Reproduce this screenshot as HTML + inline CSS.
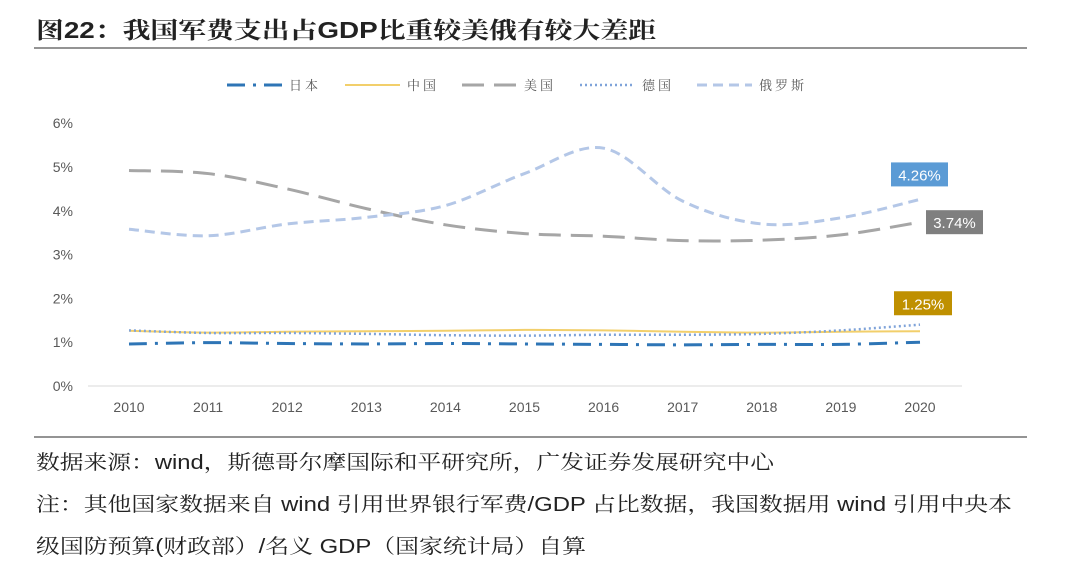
<!DOCTYPE html>
<html><head><meta charset="utf-8"><style>
body{margin:0;background:#fff;width:1080px;height:575px;overflow:hidden;font-family:"Liberation Sans","Noto Sans CJK SC",sans-serif}
.sf{font-family:"Liberation Sans","Noto Serif CJK SC",serif}
</style></head><body>
<svg id="c" width="1080" height="575" xmlns="http://www.w3.org/2000/svg">
<text class="sf" x="36" y="38" font-size="23" font-weight="bold" fill="#222" textLength="620" lengthAdjust="spacingAndGlyphs">图22：我国军费支出占GDP比重较美俄有较大差距</text>
<line x1="34" y1="48" x2="1027" y2="48" stroke="#555" stroke-width="1.2"/>
<line x1="34" y1="437" x2="1027" y2="437" stroke="#555" stroke-width="1.2"/>
<text class="sf" x="36" y="469" font-size="20" fill="#222" textLength="738" lengthAdjust="spacingAndGlyphs">数据来源：wind，斯德哥尔摩国际和平研究所，广发证券发展研究中心</text>
<text class="sf" x="36" y="511" font-size="20" fill="#222" textLength="976" lengthAdjust="spacingAndGlyphs">注：其他国家数据来自 wind 引用世界银行军费/GDP 占比数据，我国数据用 wind 引用中央本</text>
<text class="sf" x="36" y="553" font-size="20" fill="#222" textLength="550" lengthAdjust="spacingAndGlyphs">级国防预算(财政部）/名义 GDP（国家统计局）自算</text>
<g id="plot"></g>
</svg>
<script>
const years=["2010","2011","2012","2013","2014","2015","2016","2017","2018","2019","2020"];
const yTicks=[0,1,2,3,4,5,6];
const japan=[0.96,0.99,0.97,0.96,0.97,0.96,0.95,0.94,0.95,0.95,1.0];
const china=[1.26,1.22,1.24,1.25,1.26,1.28,1.27,1.24,1.22,1.24,1.25];
const germany=[1.27,1.21,1.21,1.19,1.16,1.15,1.17,1.17,1.19,1.27,1.40];
const usa=[4.92,4.85,4.5,4.05,3.68,3.48,3.42,3.32,3.33,3.45,3.74];
const russia=[3.58,3.43,3.7,3.85,4.12,4.85,5.43,4.22,3.7,3.84,4.26];
const NS="http://www.w3.org/2000/svg";
const g=document.getElementById('plot');
const xS=i=>129+i*79.1;
const yS=v=>386-v*43.8;
function mk(t,a,p){const e=document.createElementNS(NS,t);for(const k in a)e.setAttribute(k,a[k]);(p||g).appendChild(e);return e;}
yTicks.forEach(t=>{
 const tx=mk('text',{x:73,y:yS(t)+5,'font-size':14,fill:'#595959','text-anchor':'end'});
 
 
 tx.textContent=t+'%';
});
const ax=mk('line',{x1:88,x2:962,y1:yS(0),y2:yS(0),stroke:'#d9d9d9','stroke-width':1});


years.forEach((y,i)=>{
 const tx=mk('text',{x:xS(i),y:412,'font-size':14,fill:'#595959','text-anchor':'middle'});
 
 
 tx.textContent=y;
});
function path(vals){
 const p=vals.map((v,i)=>[xS(i),yS(v)]);
 let d='M'+p[0][0]+','+p[0][1];
 for(let i=0;i<p.length-1;i++){
  const p0=p[i-1]||p[i],p1=p[i],p2=p[i+1],p3=p[i+2]||p2;
  const c1=[p1[0]+(p2[0]-p0[0])/6,p1[1]+(p2[1]-p0[1])/6];
  const c2=[p2[0]-(p3[0]-p1[0])/6,p2[1]-(p3[1]-p1[1])/6];
  d+=`C${c1[0]},${c1[1]} ${c2[0]},${c2[1]} ${p2[0]},${p2[1]}`;
 }
 return d;
}
const series=[
 {n:'japan',v:japan,c:'#2e75b6',w:3,da:'18 8 3 8'},
 {n:'china',v:china,c:'#f2cf6b',w:2,da:''},
 {n:'germany',v:germany,c:'#7fa3d9',w:2.5,da:'2 3'},
 {n:'usa',v:usa,c:'#a6a6a6',w:3,da:'22 10'},
 {n:'russia',v:russia,c:'#b4c7e7',w:3,da:'10 6'}
];
series.forEach(s=>{
 const e=mk('path',{d:path(s.v),fill:'none',stroke:s.c,'stroke-width':s.w,'stroke-dasharray':s.da});
 
 
});
const leg=[{l:'日本',s:series[0],x:227},{l:'中国',s:series[1],x:345},{l:'美国',s:series[3],x:462},{l:'德国',s:series[2],x:580},{l:'俄罗斯',s:series[4],x:697}];
leg.forEach(L=>{
 const ln=mk('line',{x1:L.x,x2:L.x+55,y1:85,y2:85,stroke:L.s.c,'stroke-width':L.s.w,'stroke-dasharray':L.s.da});
 
 
 const t=mk('text',{x:L.x+62,y:90,'font-size':13,fill:'#595959','letter-spacing':3,'font-family':'Liberation Serif,Noto Serif CJK SC,serif'});
 
 
 t.textContent=L.l;
});
function label(val,bg,x,y,w){
 const r=mk('rect',{x:x,y:y,width:w,height:24,fill:bg});
 
 
 const t=mk('text',{x:x+w/2,y:y+18,'font-size':15,fill:'#fff','text-anchor':'middle'});
 
 
 t.textContent=val.toFixed(2)+'%';
}
label(russia[10],'#5b9bd5',891,yS(russia[10])-37,57);
label(usa[10],'#7f7f7f',926,yS(usa[10])-12,57);
label(china[10],'#bf9000',894,yS(china[10])-40,58);
</script>
</body></html>
